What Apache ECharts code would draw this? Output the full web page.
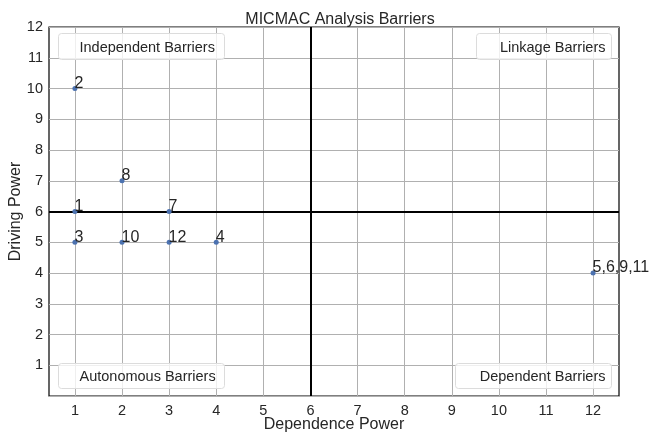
<!DOCTYPE html>
<html><head><meta charset="utf-8">
<script src="https://cdn.jsdelivr.net/npm/echarts@6/dist/echarts.min.js"></script>
<style>html,body{margin:0;padding:0;background:#fff}#c{width:650px;height:433px}</style>
</head><body><div id="c"></div>
<script>
const dependence = [1, 2, 1, 3, 1, 2, 3, 4, 12];
const driving    = [10, 7, 6, 6, 5, 5, 5, 5, 4];
const pointLabels = ['2', '8', '1', '7', '3', '10', '12', '4', '5,6,9,11'];
const xTicks = [1,2,3,4,5,6,7,8,9,10,11,12];
const yTicks = [1,2,3,4,5,6,7,8,9,10,11,12];
const quadrantNames = ['Independent Barriers', 'Linkage Barriers', 'Autonomous Barriers', 'Dependent Barriers'];
const threshold = 6;

const font = 'Liberation Sans, Arial, sans-serif';
const chart = echarts.init(document.getElementById('c'));
const data = dependence.map((x, i) => ({value: [x, driving[i]], name: pointLabels[i]}));

function box(x, y, w, h, text, align) {
  return {
    type: 'group', left: x, top: y, z: 100,
    children: [
      {type: 'rect', z: 100, shape: {x: 0, y: 0, width: w, height: h, r: 3},
       style: {fill: 'rgba(255,255,255,0.8)', stroke: '#dcdcdc', lineWidth: 1}},
      {type: 'text', z: 101, style: {text: text, x: align === 'left' ? 21 : w - 6, y: h / 2 + 1,
        align: align === 'left' ? 'left' : 'right', verticalAlign: 'middle',
        font: '14.5px ' + font, fill: '#262626'}}
    ]
  };
}

chart.setOption({
  animation: false,
  title: {text: 'MICMAC Analysis Barriers', left: 335, top: 7, textAlign: 'center',
    textStyle: {fontFamily: font, fontSize: 16, fontWeight: 'normal', color: '#262626'}},
  grid: {left: 49, right: 31, top: 27, bottom: 37, outerBoundsMode: 'none', containLabel: false,
    show: true, borderColor: '#000', borderWidth: 1.2, backgroundColor: 'transparent'},
  xAxis: {
    type: 'value', min: 0.45, max: 12.55,
    name: 'Dependence Power', nameLocation: 'middle', nameGap: 21, nameMoveOverlap: false,
    nameTextStyle: {fontFamily: font, fontSize: 16, color: '#262626'},
    axisLine: {show: false}, axisTick: {show: false, customValues: xTicks},
    axisLabel: {customValues: xTicks, fontFamily: font, fontSize: 14.5, color: '#262626', margin: 7},
    splitLine: {show: true, lineStyle: {color: '#b0b0b0', width: 1}}
  },
  yAxis: {
    type: 'value', min: 0, max: 12, interval: 1,
    name: 'Driving Power', nameLocation: 'middle', nameGap: 25, nameMoveOverlap: false,
    nameTextStyle: {fontFamily: font, fontSize: 16, color: '#262626'},
    axisLine: {show: false}, axisTick: {show: false},
    axisLabel: {fontFamily: font, fontSize: 14.5, color: '#262626', margin: 6,
      formatter: v => yTicks.includes(v) ? String(v) : ''},
    splitLine: {show: true, lineStyle: {color: '#b0b0b0', width: 1}}
  },
  series: [{
    type: 'scatter', data: data, symbolSize: 5,
    itemStyle: {color: '#4C72B0', opacity: 1},
    label: {show: true, position: 'right', distance: 0, offset: [-3, -5],
      formatter: p => p.name, fontFamily: font, fontSize: 16, color: '#262626'},
    markLine: {
      silent: true, symbol: 'none', label: {show: false},
      lineStyle: {color: '#000', width: 2, type: 'solid', opacity: 1},
      data: [{xAxis: threshold}, {yAxis: threshold}]
    },
    z: 5
  }],
  graphic: [
    box(58, 33, 166, 26, quadrantNames[0], 'left'),
    box(476, 33, 135, 26, quadrantNames[1], 'right'),
    box(58, 363, 166, 25, quadrantNames[2], 'left'),
    box(455, 363, 156, 25, quadrantNames[3], 'right')
  ]
});
</script></body></html>
